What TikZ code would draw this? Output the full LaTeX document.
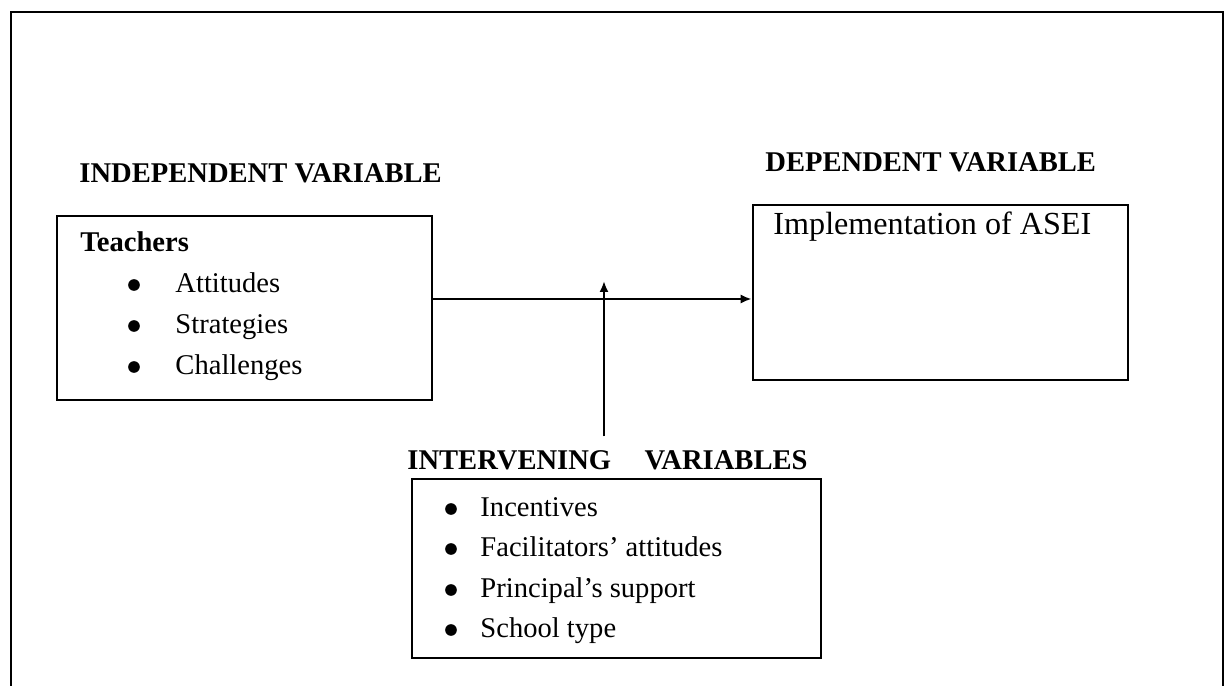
\documentclass[tikz,border=0pt]{standalone}
\usepackage{fontspec}
\setmainfont{Liberation Serif}
\usetikzlibrary{arrows.meta,positioning}

\begin{document}
\begin{tikzpicture}[x=0.42pt,y=-0.42pt,>={Latex[length=4.6pt,width=3.8pt]},
  box/.style={draw,line width=1.1pt,inner sep=0pt},
  head/.style={anchor=base west,inner sep=0pt,font=\fontsize{12}{14}\selectfont\bfseries},
  item/.style={anchor=base west,inner sep=0pt,font=\fontsize{12}{14}\selectfont},
  dot/.style={circle,fill,inner sep=0pt,minimum size=4.9pt}]
  \useasboundingbox (0,0) rectangle (1225,686);
  \draw[line width=1.1pt] (11,686) -- (11,12) -- (1223,12) -- (1223,686);
  % headings
  \node[head] (indlab) at (79,183) {INDEPENDENT VARIABLE};
  \node[head] (deplab) at (765,172) {DEPENDENT VARIABLE};
  \node[head,anchor=base] (intlab) at (607.5,470) {INTERVENING\hspace{14pt}VARIABLES};
  % boxes
  \node[box,minimum width=157.5pt,minimum height=77.3pt] (teach) at (244.5,308) {};
  \node[box,minimum width=157.5pt,minimum height=73.5pt] (dep) at (940.5,292.5) {};
  \node[box,minimum width=171.8pt,minimum height=75.2pt] (int) at (616.5,568.5) {};
  % box contents
  \node[head] (teachlab) at (80,252) {Teachers};
  \foreach \y/\txt [count=\i] in {293/Attitudes,334/Strategies,375/Challenges} {
    \node[dot] (tb\i) at (134,\y-8) {};
    \node[item] (ti\i) at (175,\y) {\txt};
  }
  \node[item,font=\fontsize{13.5}{16}\selectfont] (deptxt) at (773,235) {Implementation of ASEI};
  \foreach \y/\txt [count=\i] in {517/Incentives,557/Facilitators’ attitudes,598/Principal’s support,638/School type} {
    \node[dot] (ib\i) at (451,\y-8) {};
    \node[item] (ii\i) at (480,\y) {\txt};
  }
  % connectors
  \coordinate (mid) at (604,299);
  \coordinate (tip) at (604,281);
  \draw[->,line width=1.1pt] (teach.east |- mid) -- (dep.west |- mid);
  \draw[->,line width=1.1pt] ([yshift=6pt]intlab.north -| tip) -- (tip);
\end{tikzpicture}
\end{document}
